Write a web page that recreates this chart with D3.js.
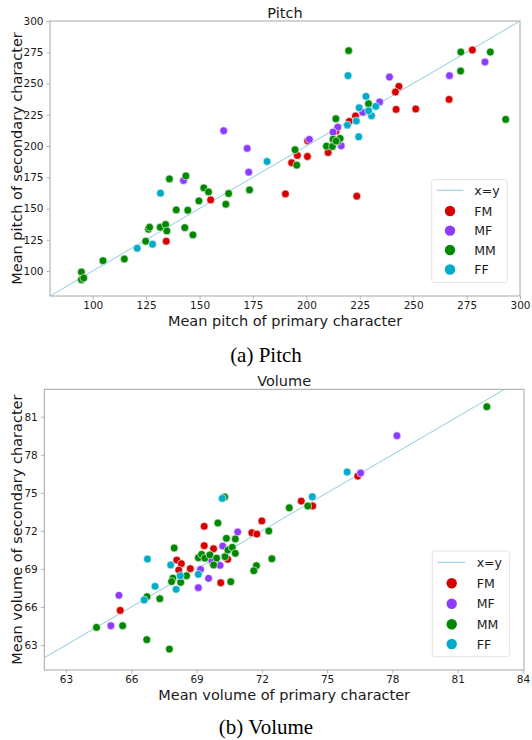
<!DOCTYPE html>
<html><head><meta charset="utf-8">
<script src="https://cdn.jsdelivr.net/npm/d3@7"></script>
<style>body{margin:0;background:#fff}svg{display:block}</style>
</head><body>
<script>
// ---------- DATA ----------
const groups = ["FM", "MF", "MM", "FF"];
const groupColors = ["#d60000", "#8c3bff", "#018700", "#00acc6"];
const legendLineLabel = "x=y";

// Pitch panel: [primary, secondary]
const pitchFM = [[134.4,123.8],[155.2,156.9],[190.2,161.7],[277.7,276.8],[243.3,247.7],[241.7,243.2],[266.8,237.3],[242.0,229.3],[251.2,229.6],[223.0,224.0],[220.1,219.7],[213.9,211.9],[200.6,204.2],[195.8,192.5],[193.1,186.6],[200.5,191.6],[210.2,194.8],[223.6,159.9]];
const pitchMF = [[161.3,212.2],[172.3,198.1],[173.0,179.1],[142.5,172.4],[283.6,267.2],[267.0,256.3],[238.9,255.2],[234.3,235.2],[226.4,226.9],[214.7,215.1],[212.5,211.1],[201.4,205.3],[216.3,200.2]];
const pitchMM = [[94.7,99.2],[94.7,93.1],[95.8,94.4],[104.8,108.3],[114.8,109.6],[124.8,123.8],[126.1,133.4],[126.6,135.0],[131.6,135.0],[134.1,137.2],[134.7,132.1],[135.9,173.7],[143.6,176.1],[139.1,148.9],[144.5,148.6],[143.1,134.7],[146.9,128.9],[149.7,156.1],[152.0,166.5],[154.2,163.3],[163.6,162.0],[162.3,153.4],[173.4,164.9],[219.8,276.3],[272.3,275.2],[286.1,275.2],[272.2,260.0],[293.3,221.3],[213.8,221.8],[229.1,233.8],[194.7,197.0],[195.5,184.7],[209.4,199.9],[212.2,199.6],[212.5,205.5],[214.8,203.7],[215.8,206.1],[213.9,204.0]];
const pitchFF = [[131.7,162.3],[120.8,118.2],[128.0,121.4],[181.6,187.6],[219.5,256.3],[227.9,239.7],[224.7,230.6],[230.5,224.2],[232.5,231.7],[229.1,228.2],[223.4,220.0],[219.2,216.7],[224.5,207.4]];
const pitchTicks = [100,125,150,175,200,225,250,275,300];
const pitchDomainX = [80, 300];
const pitchDomainY = [80, 300];
const pitchDiag = [80, 300];

// Volume panel: [primary, secondary]
const volumeFM = [[69.35,72.36],[72.0,72.78],[71.54,71.85],[71.77,71.75],[69.35,70.83],[69.78,70.59],[68.09,69.70],[68.3,69.41],[68.18,68.91],[68.71,69.02],[70.43,69.76],[70.11,67.91],[65.49,65.73],[73.81,74.35],[74.34,73.96],[76.41,76.32]];
const volumeMF = [[70.89,71.91],[70.2,70.8],[70.08,69.28],[69.55,68.26],[69.08,67.52],[69.18,68.96],[65.43,66.92],[65.06,64.52],[78.21,79.5],[76.54,76.56],[69.7,69.65]];
const volumeMM = [[70.29,74.67],[69.98,72.62],[73.26,73.82],[74.11,73.96],[82.34,81.79],[72.32,71.99],[72.46,69.8],[70.37,71.41],[70.78,71.36],[67.97,70.65],[69.08,69.88],[69.23,70.15],[69.38,69.85],[69.61,70.11],[69.92,69.85],[70.31,69.96],[70.44,70.49],[70.64,70.7],[70.78,70.23],[69.78,69.31],[68.54,68.46],[67.91,68.28],[67.85,68.0],[68.27,67.94],[70.57,67.99],[71.75,69.25],[71.63,68.86],[66.72,66.81],[67.31,66.65],[65.6,64.52],[64.4,64.39],[66.71,63.42],[67.75,62.68]];
const volumeFF = [[70.18,74.56],[66.74,69.78],[67.81,69.31],[67.09,67.63],[66.59,66.55],[68.06,67.39],[68.25,68.46],[69.08,68.57],[75.92,76.64],[74.32,74.69]];
const volumeTicksX = [63,66,69,72,75,78,81,84];
const volumeTicksY = [63,66,69,72,75,78,81];
const volumeDomainX = [62, 84.05];
const volumeDomainY = [61.03, 83.16];
const volumeDiag = [62, 83.16];

// ---------- DRAWING ----------
const W = 532, H = 740;
const svg = d3.select("body").append("svg").attr("width", W).attr("height", H);
const FONT = "DejaVu Sans, sans-serif";
const SPINE = "#a6a6a6";
const TXT = "#1a1a1a";

function panel(cfg, id) {
  const x = d3.scaleLinear().domain(cfg.domX).range([cfg.left, cfg.right]);
  const y = d3.scaleLinear().domain(cfg.domY).range([cfg.bottom, cfg.top]);
  const g = svg.append("g");

  g.append("clipPath").attr("id", id).append("rect")
    .attr("x", cfg.left).attr("y", cfg.top)
    .attr("width", cfg.right - cfg.left).attr("height", cfg.bottom - cfg.top);

  const ax = g.append("g").attr("transform", `translate(0,${cfg.bottom})`)
    .call(d3.axisBottom(x).tickValues(cfg.ticksX).tickSize(3.5).tickPadding(2.5).tickFormat(d3.format("d")));
  const ay = g.append("g").attr("transform", `translate(${cfg.left},0)`)
    .call(d3.axisLeft(y).tickValues(cfg.ticksY).tickSize(3.5).tickPadding(3).tickFormat(d3.format("d")));
  [ax, ay].forEach(a => {
    a.select(".domain").remove();
    a.selectAll(".tick line").attr("stroke", SPINE).attr("stroke-width", 0.8);
    a.selectAll(".tick text").attr("font-family", FONT).attr("font-size", 10.5).attr("fill", TXT);
  });

  g.append("rect").attr("x", cfg.left).attr("y", cfg.top)
    .attr("width", cfg.right - cfg.left).attr("height", cfg.bottom - cfg.top)
    .attr("fill", "none").attr("stroke", SPINE).attr("stroke-width", 1);

  g.append("line").attr("clip-path", `url(#${id})`)
    .attr("x1", x(cfg.diag[0])).attr("y1", y(cfg.diag[0]))
    .attr("x2", x(cfg.diag[1])).attr("y2", y(cfg.diag[1]))
    .attr("stroke", "#8fcbe2").attr("stroke-width", 1);

  cfg.series.forEach((pts, i) => {
    g.append("g").selectAll("circle").data(pts).join("circle")
      .attr("cx", d => x(d[0])).attr("cy", d => y(d[1])).attr("r", 3.9)
      .attr("fill", groupColors[i]).attr("stroke", "#fff").attr("stroke-width", 0.6);
  });

  const cx = (cfg.left + cfg.right) / 2;
  g.append("text").attr("x", cx).attr("y", cfg.top - 3.5).attr("text-anchor", "middle")
    .attr("font-family", FONT).attr("font-size", 14.5).attr("fill", TXT).text(cfg.title);
  g.append("text").attr("x", cx).attr("y", cfg.bottom + 29.5).attr("text-anchor", "middle")
    .attr("font-family", FONT).attr("font-size", 14.5).attr("fill", TXT).text(cfg.xlabel);
  g.append("text").attr("transform", `translate(22,${(cfg.top + cfg.bottom) / 2}) rotate(-90)`)
    .attr("text-anchor", "middle").attr("font-family", FONT).attr("font-size", 14.5).attr("fill", TXT).text(cfg.ylabel);

  const L = cfg.legend;
  g.append("rect").attr("x", L.x0).attr("y", L.y0).attr("width", L.x1 - L.x0).attr("height", L.y1 - L.y0)
    .attr("rx", 2.5).attr("fill", "#fff").attr("fill-opacity", 0.85).attr("stroke", "#dcdcdc").attr("stroke-width", 0.8);
  g.append("line").attr("x1", L.lx0).attr("x2", L.lx1).attr("y1", L.rows[0]).attr("y2", L.rows[0])
    .attr("stroke", "#8fcbe2").attr("stroke-width", 1);
  g.append("text").attr("x", L.tx).attr("y", L.rows[0]).attr("dy", "0.36em")
    .attr("font-family", FONT).attr("font-size", 12.5).attr("fill", TXT).text(legendLineLabel);
  groups.forEach((name, i) => {
    g.append("circle").attr("cx", L.mx).attr("cy", L.rows[i + 1]).attr("r", 5.2).attr("fill", groupColors[i]);
    g.append("text").attr("x", L.tx).attr("y", L.rows[i + 1]).attr("dy", "0.36em")
      .attr("font-family", FONT).attr("font-size", 12.5).attr("fill", TXT).text(name);
  });

  svg.append("text").attr("x", 266).attr("y", cfg.captionY).attr("text-anchor", "middle")
    .attr("font-family", "Liberation Serif, Times New Roman, serif").attr("font-size", 21).attr("fill", "#000")
    .text(cfg.caption);
}

panel({
  left: 50, right: 520, top: 21, bottom: 296,
  domX: pitchDomainX, domY: pitchDomainY, ticksX: pitchTicks, ticksY: pitchTicks, diag: pitchDiag,
  series: [pitchFM, pitchMF, pitchMM, pitchFF],
  title: "Pitch", xlabel: "Mean pitch of primary character", ylabel: "Mean pitch of secondary character",
  legend: {x0: 431.7, x1: 507.3, y0: 179.5, y1: 282.5, lx0: 436.7, lx1: 463.3, mx: 450, tx: 474.3,
           rows: [190.3, 211, 230.6, 250, 269.5]},
  caption: "(a) Pitch", captionY: 362
}, "clipA");

panel({
  left: 44.3, right: 524, top: 389.3, bottom: 670,
  domX: volumeDomainX, domY: volumeDomainY, ticksX: volumeTicksX, ticksY: volumeTicksY, diag: volumeDiag,
  series: [volumeFM, volumeMF, volumeMM, volumeFF],
  title: "Volume", xlabel: "Mean volume of primary character", ylabel: "Mean volume of secondary character",
  legend: {x0: 432.3, x1: 509.3, y0: 551, y1: 656.7, lx0: 437.3, lx1: 465, mx: 451.7, tx: 476.7,
           rows: [562.3, 583.3, 603.7, 624.3, 644]},
  caption: "(b) Volume", captionY: 734
}, "clipB");
</script>
</body></html>
